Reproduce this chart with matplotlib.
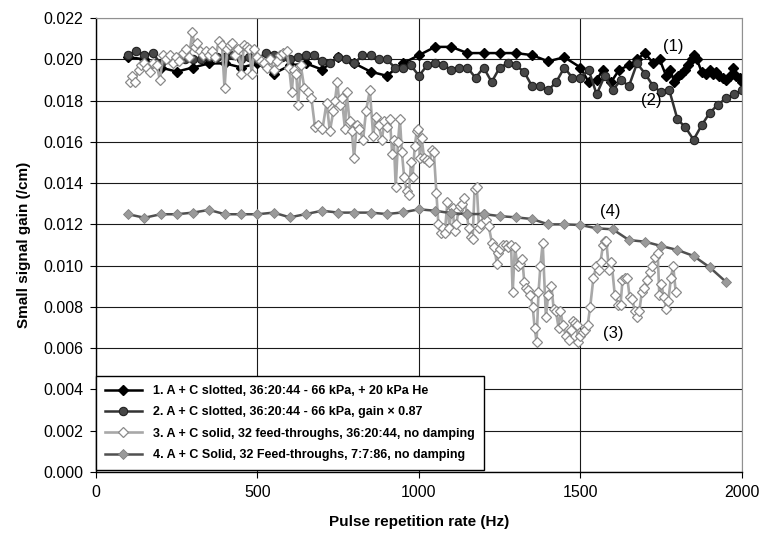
import matplotlib.pyplot as plt
from matplotlib.ticker import FormatStrFormatter

plt.rcParams['font.family'] = ['Liberation Sans', 'DejaVu Sans']

# Series 1: A + C slotted, + 20 kPa He
s1_x = [100, 150, 200, 250, 300, 350, 400, 450, 500, 550, 600, 650, 700, 750,
        800, 850, 900, 950, 1000, 1050, 1100, 1150, 1200, 1250, 1300, 1350,
        1400, 1450, 1500, 1525, 1550, 1570, 1595, 1620, 1650, 1675, 1700,
        1725, 1745, 1765, 1778, 1790, 1802, 1812, 1823, 1834, 1844, 1851,
        1860, 1875, 1890, 1900, 1910, 1920, 1930, 1942, 1952, 1962, 1972,
        1983, 1993, 2000]
s1_y = [0.0201, 0.0200, 0.0196, 0.0194, 0.0196, 0.0198, 0.0198, 0.0196,
        0.0198, 0.0193, 0.0197, 0.0198, 0.0195, 0.0201, 0.0198, 0.0194,
        0.0192, 0.0198, 0.0202, 0.0206, 0.0206, 0.0203, 0.0203, 0.0203,
        0.0203, 0.0202, 0.0199, 0.0201, 0.0196, 0.0189, 0.0190, 0.0195,
        0.0189, 0.0195, 0.0197, 0.0200, 0.0203, 0.0198, 0.0200, 0.0192,
        0.0195, 0.0189, 0.0192, 0.0193, 0.0195, 0.0197, 0.0200, 0.0202,
        0.0200, 0.0194, 0.0193, 0.0195, 0.0193, 0.0194, 0.0192, 0.0191,
        0.0190, 0.0192, 0.0196, 0.0192, 0.0191, 0.0189]

# Series 2: A + C slotted, gain x 0.87
s2_x = list(range(100, 2001, 25))
s2_y = [0.0202, 0.0204, 0.0202, 0.0203, 0.0198, 0.0201, 0.0199, 0.0200,
        0.0200, 0.0200, 0.0201, 0.0201, 0.0201, 0.0202, 0.0200, 0.0201,
        0.0200, 0.0203, 0.0202, 0.0201, 0.0200, 0.0201, 0.0202, 0.0202,
        0.0199, 0.0198, 0.0201, 0.0200, 0.0198, 0.0202, 0.0202, 0.0200,
        0.0200, 0.0196, 0.0196, 0.0197, 0.0192, 0.0197, 0.0198, 0.0197,
        0.0195, 0.0196, 0.0196, 0.0191, 0.0196, 0.0189, 0.0196, 0.0198,
        0.0197, 0.0194, 0.0187, 0.0187, 0.0185, 0.0189, 0.0196, 0.0191,
        0.0191, 0.0195, 0.0183, 0.0192, 0.0185, 0.0190, 0.0187, 0.0198,
        0.0193, 0.0187, 0.0184, 0.0185, 0.0171, 0.0167, 0.0161, 0.0168,
        0.0174, 0.0178, 0.0181, 0.0183, 0.0185]

# Series 3: A + C solid, 32 feed-throughs, 36:20:44, no damping
s3_x = [105, 112, 120, 132, 140, 148, 158, 168, 178, 188, 198, 208, 218, 228,
        238, 248, 258, 268, 278, 288, 298, 306, 314, 322, 330, 340, 350, 360,
        370, 380, 390, 398, 406, 414, 422, 430, 440, 450, 458, 466, 474, 482,
        490, 500, 510, 520, 530, 540, 550, 560, 570, 580, 590, 598, 606, 612,
        620, 626, 634, 645, 657, 667, 678, 688, 701, 714, 724, 735, 740, 747,
        754, 761, 771, 776, 785, 792, 799, 807, 815, 827, 836, 848, 858, 866,
        875, 885, 893, 902, 910, 917, 922, 928, 935, 941, 947, 954, 962, 969,
        975, 980, 987, 993, 998, 1003, 1008, 1016, 1024, 1032, 1040, 1046,
        1054, 1060, 1067, 1073, 1080, 1088, 1094, 1100, 1104, 1110, 1116, 1122,
        1128, 1134, 1140, 1148, 1154, 1160, 1166, 1172, 1179, 1186, 1193, 1200,
        1208, 1216, 1226, 1233, 1241, 1246, 1252, 1260, 1268, 1276, 1285, 1290,
        1297, 1305, 1313, 1320, 1326, 1331, 1338, 1345, 1352, 1358, 1364, 1370,
        1376, 1383, 1393, 1400, 1410, 1417, 1424, 1432, 1438, 1446, 1455, 1463,
        1470, 1476, 1482, 1488, 1493, 1500, 1508, 1514, 1522, 1530, 1540, 1549,
        1556, 1562, 1570, 1575, 1580, 1588, 1596, 1606, 1617, 1624, 1630, 1637,
        1645, 1652, 1660, 1668, 1675, 1682, 1690, 1698, 1705, 1714, 1722, 1732,
        1739, 1744, 1750, 1758, 1766, 1772, 1780, 1787, 1795]
s3_y = [0.0189, 0.0192, 0.0189, 0.0195, 0.0197, 0.0198, 0.0196, 0.0194, 0.0198,
        0.0197, 0.0190, 0.0202, 0.0200, 0.0202, 0.0198, 0.0201, 0.0199, 0.0203,
        0.0205, 0.0201, 0.0213, 0.0206, 0.0208, 0.0204, 0.0202, 0.0204, 0.0202,
        0.0204, 0.0201, 0.0209, 0.0207, 0.0186, 0.0205, 0.0207, 0.0208, 0.0202,
        0.0205, 0.0193, 0.0207, 0.0206, 0.0205, 0.0193, 0.0205, 0.0201, 0.0199,
        0.0198, 0.0196, 0.0200, 0.0195, 0.0199, 0.0202, 0.0203, 0.0204, 0.0196,
        0.0184, 0.0195, 0.0193, 0.0178, 0.0197, 0.0186, 0.0184, 0.0181, 0.0167,
        0.0168, 0.0166, 0.0179, 0.0165, 0.0175, 0.0180, 0.0189, 0.0178, 0.0181,
        0.0166, 0.0184, 0.0170, 0.0165, 0.0152, 0.0168, 0.0166, 0.0161, 0.0175,
        0.0185, 0.0163, 0.0172, 0.0168, 0.0161, 0.0170, 0.0167, 0.0171, 0.0154,
        0.0161, 0.0138, 0.0160, 0.0171, 0.0155, 0.0143, 0.0136, 0.0134, 0.0150,
        0.0143, 0.0158, 0.0165, 0.0166, 0.0152, 0.0162, 0.0152, 0.0151, 0.0150,
        0.0156, 0.0155, 0.0135, 0.0120, 0.0116, 0.0118, 0.0116, 0.0131, 0.0118,
        0.0127, 0.0128, 0.0117, 0.0120, 0.0127, 0.0129, 0.0130, 0.0133, 0.0125,
        0.0118, 0.0114, 0.0113, 0.0137, 0.0138, 0.0118, 0.0120, 0.0125, 0.0122,
        0.0119, 0.0111, 0.0109, 0.0101, 0.0106, 0.0108, 0.0110, 0.0110, 0.0109,
        0.0110, 0.0087, 0.0109, 0.0100, 0.0101, 0.0103, 0.0092, 0.0089, 0.0088,
        0.0086, 0.0080, 0.0070, 0.0063, 0.0087, 0.0100, 0.0111, 0.0075, 0.0086,
        0.0090, 0.0079, 0.0078, 0.0070, 0.0078, 0.0071, 0.0066, 0.0064, 0.0069,
        0.0073, 0.0072, 0.0071, 0.0063, 0.0066, 0.0068, 0.0069, 0.0071, 0.0080,
        0.0094, 0.0100, 0.0098, 0.0102, 0.0110, 0.0112, 0.0112, 0.0098, 0.0102,
        0.0086, 0.0081, 0.0081, 0.0093, 0.0094, 0.0094, 0.0085, 0.0084, 0.0078,
        0.0075, 0.0078, 0.0087, 0.0089, 0.0093, 0.0097, 0.0100, 0.0104, 0.0106,
        0.0086, 0.0091, 0.0085, 0.0079, 0.0083, 0.0094, 0.0100, 0.0087]

# Series 4: A + C Solid, 32 Feed-throughs, 7:7:86, no damping
s4_x = list(range(100, 1951, 50))
s4_y = [0.01249, 0.01232, 0.01249, 0.01249, 0.01257, 0.01270, 0.01249,
        0.01249, 0.01249, 0.01257, 0.01234, 0.01250, 0.01266, 0.01257,
        0.01257, 0.01257, 0.01250, 0.01258, 0.01273, 0.01266, 0.01254,
        0.01250, 0.01250, 0.01240, 0.01234, 0.01226, 0.01200, 0.01200,
        0.01197, 0.01181, 0.01176, 0.01124, 0.01116, 0.01095, 0.01076,
        0.01047, 0.00992, 0.00922]

labels = ['1. A + C slotted, 36:20:44 - 66 kPa, + 20 kPa He',
          '2. A + C slotted, 36:20:44 - 66 kPa, gain \u00d7 0.87',
          '3. A + C solid, 32 feed-throughs, 36:20:44, no damping',
          '4. A + C Solid, 32 Feed-throughs, 7:7:86, no damping']

fig = plt.figure(figsize=(7.6, 5.37), dpi=100)
ax = fig.add_axes([0.1263, 0.121, 0.85, 0.8455])

ax.plot(s1_x, s1_y, color='black', lw=1.8, marker='D', ms=5.2,
        mfc='black', mec='black', label=labels[0])
ax.plot(s2_x, s2_y, color='#333333', lw=1.8, marker='o', ms=6,
        mfc='#474747', mec='#222222', mew=0.8, label=labels[1])
ax.plot(s3_x, s3_y, color='#a8a8a8', lw=1.9, marker='D', ms=4.8,
        mfc='white', mec='#8a8a8a', mew=0.9, label=labels[2])
ax.plot(s4_x, s4_y, color='#505050', lw=1.8, marker='D', ms=5.2,
        mfc='#9a9a9a', mec='#808080', mew=0.6, label=labels[3])

ax.set_xlim(0, 2000)
ax.set_ylim(0, 0.022)
ax.set_xticks([0, 500, 1000, 1500, 2000])
ax.set_yticks([i * 0.002 for i in range(12)])
ax.yaxis.set_major_formatter(FormatStrFormatter('%.3f'))
ax.tick_params(labelsize=11.5, direction='out', length=4.5, width=0.8, pad=4.5)
ax.grid(True, color='#1a1a1a', lw=0.8)
ax.set_axisbelow(True)

for side in ['top', 'right']:
    ax.spines[side].set_color('#909090')
for side in ['left', 'bottom']:
    ax.spines[side].set_color('black')
    ax.spines[side].set_linewidth(1.0)

ax.set_xlabel('Pulse repetition rate (Hz)', fontsize=11, fontweight='bold', labelpad=11)
ax.set_ylabel('Small signal gain (/cm)', fontsize=11, fontweight='bold', labelpad=9)

# Curve annotations
ax.text(1786, 0.0206, '(1)', fontsize=12, ha='center', va='center')
ax.text(1720, 0.0180, '(2)', fontsize=12, ha='center', va='center')
ax.text(1600, 0.0067, '(3)', fontsize=12, ha='center', va='center')
ax.text(1592, 0.0126, '(4)', fontsize=12, ha='center', va='center')

leg = ax.legend(loc='lower left', bbox_to_anchor=(0.0, 0.005), borderaxespad=0,
                prop={'weight': 'bold', 'size': 9}, fancybox=False,
                framealpha=1, edgecolor='black', handlelength=3.0,
                labelspacing=0.75, borderpad=0.7, handletextpad=0.9)
leg.get_frame().set_linewidth(1.0)

fig.savefig('out.png', dpi=100)
